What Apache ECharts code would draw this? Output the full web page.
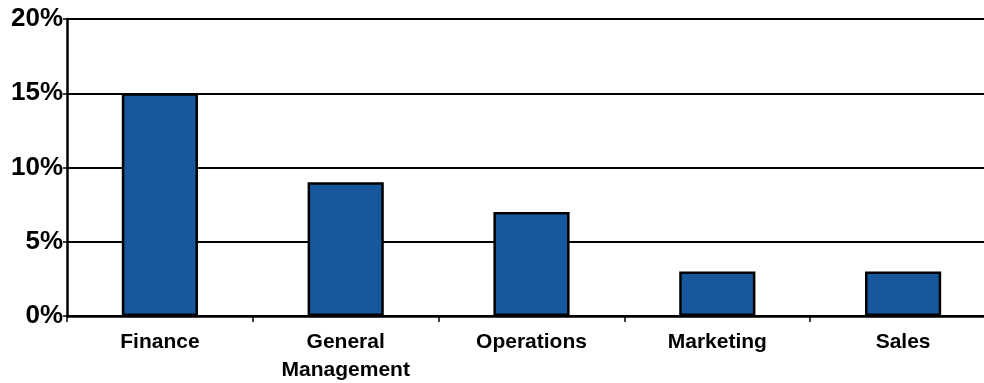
<!DOCTYPE html>
<html>
<head>
<meta charset="utf-8">
<script src="https://cdn.jsdelivr.net/npm/echarts@6/dist/echarts.min.js"></script>
<style>
  html, body { margin: 0; padding: 0; background: #fff; overflow: hidden; }
  #chart { width: 984px; height: 383px; }
</style>
</head>
<body>
<div id="chart"></div>
<script>
// Share of respondents by function
const categories = ['Finance', 'General\nManagement', 'Operations', 'Marketing', 'Sales'];
const shares = [15, 9, 7, 3, 3];
const yTicks = [0, 5, 10, 15, 20];

const chart = echarts.init(document.getElementById('chart'));
chart.setOption({
  animation: false,
  backgroundColor: '#ffffff',
  // plot area runs slightly past the right edge of the canvas
  grid: { left: 67, top: 19, width: 929, height: 297, outerBoundsMode: 'none', containLabel: false },
  xAxis: {
    type: 'category',
    data: categories,
    axisLine: { lineStyle: { color: '#000', width: 2.5 } },
    axisTick: { show: true, length: 6, lineStyle: { color: '#000', width: 1.5 } },
    axisLabel: {
      color: '#000',
      fontFamily: 'Liberation Sans, Arial, sans-serif',
      fontWeight: 'bold',
      fontSize: 21,
      lineHeight: 28,
      margin: 12
    }
  },
  yAxis: {
    type: 'value',
    min: yTicks[0],
    max: yTicks[yTicks.length - 1],
    interval: 5,
    axisLine: { show: true, lineStyle: { color: '#000', width: 2.5 } },
    axisTick: { show: true, length: 4, lineStyle: { color: '#000', width: 1.5 } },
    splitLine: { lineStyle: { color: '#000', width: 2 } },
    axisLabel: {
      color: '#000',
      fontFamily: 'Liberation Sans, Arial, sans-serif',
      fontWeight: 'bold',
      fontSize: 26,
      margin: 4,
      lineHeight: 26,
      padding: [6, 0, 0, 0],
      formatter: v => v + '%'
    }
  },
  series: [{
    type: 'bar',
    data: shares,
    barWidth: '41%',
    itemStyle: { color: '#17589c', borderColor: '#000', borderWidth: 2.5 }
  }]
});
</script>
</body>
</html>
